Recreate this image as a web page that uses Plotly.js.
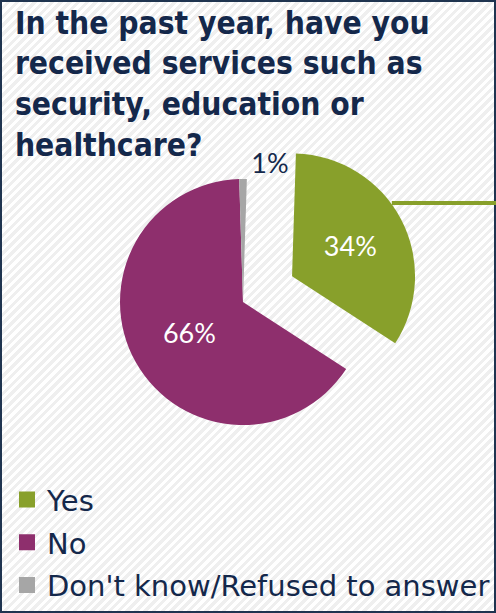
<!DOCTYPE html>
<html>
<head>
<meta charset="utf-8">
<script src="https://cdn.plot.ly/plotly-3.0.1.min.js"></script>
<style>
  html, body { margin: 0; padding: 0; }
  #wrap {
    position: relative; width: 496px; height: 613px; box-sizing: border-box;
    border: 2px solid #1f3450;
    background: repeating-linear-gradient(135deg, #ffffff 0px, #ffffff 3px, #efefef 3px, #efefef 6.2px);
  }
  #chart { position: absolute; left: -2px; top: -2px; width: 496px; height: 613px; }
</style>
</head>
<body>
<div id="wrap"><div id="chart"></div></div>
<script>
const categories = ["Yes", "No", "Don't know/Refused to answer"];
const values = [34, 66, 1];
const colors = ["#88a02b", "#8e2f6d", "#a6a6a6"];
const pulled = [true, false, false];   // which slice is exploded
const titleText = "In the past year, have you<br>received services such as<br>security, education or<br>healthcare?";

const navy = "#14284b";
const clear = "rgba(0,0,0,0)";
const labelFont = "Lato, sans-serif";

// Common pie settings
const base = {
  type: "pie",
  labels: categories,
  values: values,
  sort: false,
  direction: "clockwise",
  rotation: 1.8,
  texttemplate: "%{value}%",
  insidetextorientation: "horizontal",
  insidetextfont: { family: labelFont, size: 27, color: "#ffffff" },
  outsidetextfont: { family: labelFont, size: 27, color: navy },
  hoverinfo: "none",
  showlegend: false
};

// main (not exploded) slices
const pieMain = Object.assign({}, base, {
  marker: { colors: colors.map((c, i) => pulled[i] ? clear : c), line: { width: 0 } },
  textposition: values.map((v, i) => pulled[i] ? "none" : (v < 5 ? "outside" : "inside")),
  domain: { x: [0.2419, 0.7379], y: [0.3067, 0.7080] }
});

// exploded slice
const piePull = Object.assign({}, base, {
  pull: pulled.map(p => p ? 0.45 : 0),
  marker: { colors: colors.map((c, i) => pulled[i] ? c : clear), line: { width: 0 } },
  textposition: pulled.map(p => p ? "inside" : "none"),
  domain: { x: [0.1303, 0.8495], y: [0.2164, 0.7983] }
});

// legend entries built from the same categories/colors
const legendTraces = categories.map((c, i) => ({
  type: "scatter", mode: "markers", x: [null], y: [null],
  name: c, legendgroup: "g" + i,
  marker: { symbol: "square", size: 16, color: colors[i] },
  xaxis: "x", yaxis: "y", hoverinfo: "none"
}));

const layout = {
  width: 496, height: 613,
  margin: { l: 0, r: 0, t: 0, b: 0 },
  paper_bgcolor: clear,
  plot_bgcolor: clear,
  title: {
    text: titleText,
    x: 0.03, xanchor: "left", xref: "paper",
    y: 0.9453, yanchor: "top", yref: "container",
    font: { family: "DejaVu Sans Condensed, DejaVu Sans, sans-serif", size: 31.5, color: navy, weight: "bold" }
  },
  xaxis: { visible: false, domain: [0, 0.01] },
  yaxis: { visible: false, domain: [0, 0.01] },
  showlegend: true,
  legend: {
    x: 0.0141, xanchor: "left", y: 0.003, yanchor: "bottom",
    traceorder: "grouped", tracegroupgap: 2,
    bgcolor: clear,
    font: { family: "DejaVu Sans, sans-serif", size: 29, color: navy },
    itemwidth: 30
  },
  shapes: [{
    type: "line", xref: "paper", yref: "paper",
    x0: 0.79, x1: 1.0, y0: 1 - 203 / 613, y1: 1 - 203 / 613,
    line: { color: colors[0], width: 4 }
  }]
};

Plotly.newPlot("chart", [pieMain, piePull].concat(legendTraces), layout, { displayModeBar: false, staticPlot: true });
</script>
</body>
</html>
